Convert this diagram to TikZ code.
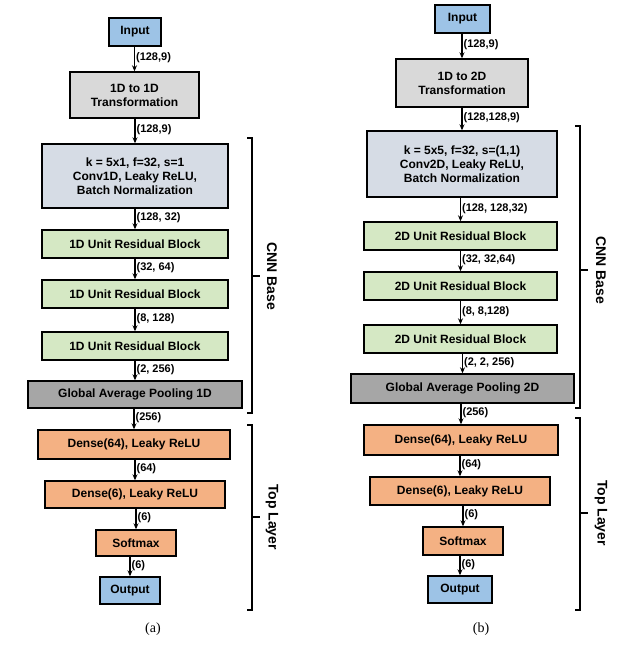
\documentclass[tikz,border=0pt]{standalone}
\usepackage{fontspec}
\setmainfont{Liberation Sans}
\newfontfamily\capfont{Liberation Serif}
\usetikzlibrary{arrows.meta}
\definecolor{cin}{HTML}{9DC3E6}
\definecolor{ctr}{HTML}{D9D9D9}
\definecolor{ccv}{HTML}{D6DCE5}
\definecolor{crs}{HTML}{D5E8C4}
\definecolor{cgp}{HTML}{A6A6A6}
\definecolor{cdn}{HTML}{F4B183}
\tikzset{
 blk/.style={draw=black, line width=1.4pt, font=\bfseries\fontsize{12}{14}\selectfont, align=center, inner sep=0pt},
 arr/.style={-{Stealth[length=6pt,width=5pt]}, line width=1.2pt},
 dim/.style={font=\bfseries\fontsize{11}{13}\selectfont, anchor=west, inner sep=1pt},
 brk/.style={line width=1.3pt},
 side/.style={font=\bfseries\fontsize{14}{16}\selectfont, rotate=-90},
 captxt/.style={font=\capfont\fontsize{14}{16}\selectfont}
}
\newcommand{\bx}[7]{\node[blk, fill=#2, minimum width=#5pt, minimum height=#6pt] (#1) at (#3,#4) {#7};}
\begin{document}
\begin{tikzpicture}[x=1pt,y=-1pt]
\useasboundingbox (0,0) rectangle (640,657);
% left
\bx{la}{cin}{135}{32}{52}{28}{Input}
\bx{lb}{ctr}{134.5}{95}{129}{46}{1D to 1D\\Transformation}
\bx{lc}{ccv}{135}{176}{186}{64}{k = 5x1, f=32, s=1\\Conv1D, Leaky ReLU,\\Batch Normalization}
\bx{ld}{crs}{135}{244}{186}{28}{1D Unit Residual Block}
\bx{le}{crs}{135}{294}{186}{28}{1D Unit Residual Block}
\bx{lf}{crs}{135}{346}{186}{28}{1D Unit Residual Block}
\bx{lg}{cgp}{135}{394.5}{214}{27}{Global Average Pooling 1D}
\bx{lh}{cdn}{134}{444.5}{192}{29}{Dense(64), Leaky ReLU}
\bx{li}{cdn}{135}{494.5}{180}{27}{Dense(6), Leaky ReLU}
\bx{lj}{cdn}{136}{543}{80}{26}{Softmax}
\bx{lk}{cin}{130}{590.5}{60}{27}{Output}
\foreach \a/\b/\t in {la/lb/{(128,9)},lb/lc/{(128,9)},lc/ld/{(128, 32)},ld/le/{(32, 64)},le/lf/{(8, 128)},lf/lg/{(2, 256)},lg/lh/{(256)},lh/li/{(64)},li/lj/{(6)},lj/lk/{(6)}}{
 \draw[arr] (\a.south -| \b.north) -- node[dim, pos=0.45] {\t} (\b.north);
}
\coordinate (lt1) at (247,138); \coordinate (lt2) at (252,138); \coordinate (lt3) at (252,413); \coordinate (lt4) at (247,413);
\coordinate (lm) at (260,276);
\draw[brk] (lt1) -- (lt2) -- (lt3) -- (lt4);
\draw[brk] (lt2 |- lm) -- (lm);
\node[side] (lcnn) at (272,276) {CNN Base};
\coordinate (lu1) at (247,425); \coordinate (lu2) at (252,425); \coordinate (lu3) at (252,610); \coordinate (lu4) at (247,610);
\coordinate (ln) at (260,517);
\draw[brk] (lu1) -- (lu2) -- (lu3) -- (lu4);
\draw[brk] (lu2 |- ln) -- (ln);
\node[side] (ltop) at (272,517) {Top Layer};
\node[captxt] (capa) at (153,629) {(a)};
% right
\bx{ra}{cin}{462.5}{19}{55}{28}{Input}
\bx{rb}{ctr}{462}{83}{132}{48}{1D to 2D\\Transformation}
\bx{rc}{ccv}{462}{164}{190}{66}{k = 5x5, f=32, s=(1,1)\\Conv2D, Leaky ReLU,\\Batch Normalization}
\bx{rd}{crs}{460.5}{236}{193}{28}{2D Unit Residual Block}
\bx{re}{crs}{460.5}{286}{193}{28}{2D Unit Residual Block}
\bx{rf}{crs}{460.5}{339}{193}{28}{2D Unit Residual Block}
\bx{rg}{cgp}{462.5}{388.5}{223}{29}{Global Average Pooling 2D}
\bx{rh}{cdn}{461}{440}{194}{30}{Dense(64), Leaky ReLU}
\bx{ri}{cdn}{460}{491}{180}{28}{Dense(6), Leaky ReLU}
\bx{rj}{cdn}{463}{541}{80}{28}{Softmax}
\bx{rk}{cin}{460}{589.5}{64}{27}{Output}
\foreach \a/\b/\t in {ra/rb/{(128,9)},rb/rc/{(128,128,9)},rc/rd/{(128, 128,32)},rd/re/{(32, 32,64)},re/rf/{(8, 8,128)},rf/rg/{(2, 2, 256)},rg/rh/{(256)},rh/ri/{(64)},ri/rj/{(6)},rj/rk/{(6)}}{
 \draw[arr] (\a.south -| \b.north) -- node[dim, pos=0.45] {\t} (\b.north);
}
\coordinate (rt1) at (575,126); \coordinate (rt2) at (580,126); \coordinate (rt3) at (580,408); \coordinate (rt4) at (575,408);
\coordinate (rm) at (588,270);
\draw[brk] (rt1) -- (rt2) -- (rt3) -- (rt4);
\draw[brk] (rt2 |- rm) -- (rm);
\node[side] (rcnn) at (601,270) {CNN Base};
\coordinate (ru1) at (575,418); \coordinate (ru2) at (580,418); \coordinate (ru3) at (580,610); \coordinate (ru4) at (575,610);
\coordinate (rn) at (588,513);
\draw[brk] (ru1) -- (ru2) -- (ru3) -- (ru4);
\draw[brk] (ru2 |- rn) -- (rn);
\node[side] (rtop) at (601,513) {Top Layer};
\node[captxt] (capb) at (481,629) {(b)};
\end{tikzpicture}
\end{document}
